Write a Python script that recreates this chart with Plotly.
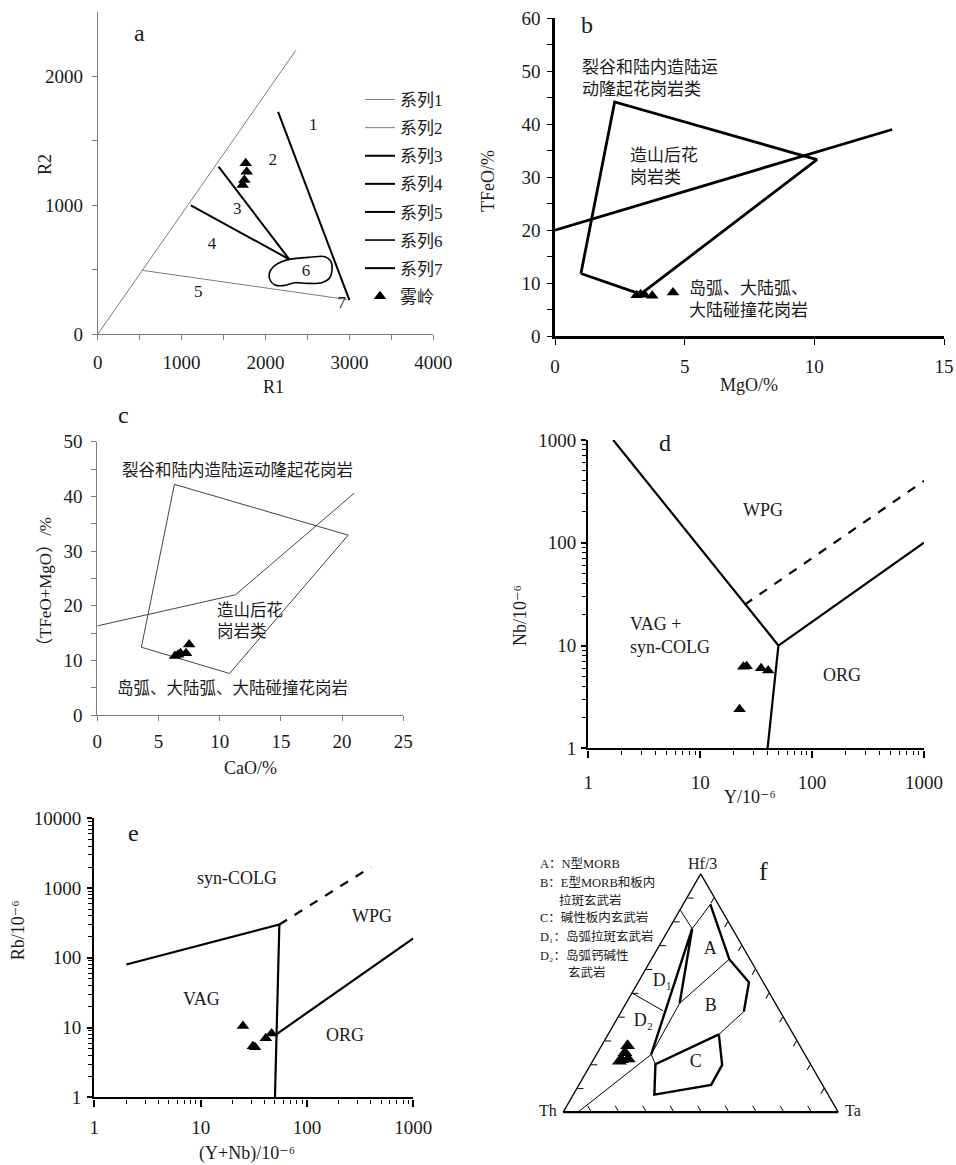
import numpy as np
import plotly.graph_objects as go

W, H = 956, 1165


def px(x):
    return x / W


def py(y):
    return 1 - y / H


# ------------------------------------------------------------------ data
# (a) R1-R2 diagram
a_series_names = ["系列1", "系列2", "系列3", "系列4", "系列5", "系列6", "系列7", "雾岭"]
a_diag_r1 = [0, 2360]
a_diag_r2 = [0, 2200]
a_l5_r1 = [540, 2970]
a_l5_r2 = [495, 270]
a_l1_r1 = [2150, 3000]
a_l1_r2 = [1725, 265]
a_l3_r1 = [1440, 2284]
a_l3_r2 = [1300, 581]
a_l4_r1 = [1110, 2284]
a_l4_r2 = [1000, 581]
a_f6_r1 = [2284, 2531, 2709, 2781, 2793, 2761, 2670, 2491, 2352, 2213, 2113, 2054, 2046, 2093, 2193, 2284]
a_f6_r2 = [581, 597, 602, 563, 498, 434, 400, 395, 400, 377, 382, 421, 473, 524, 563, 581]
a_s7_r1 = [None]
a_s7_r2 = [None]
a_smp_r1 = [1764, 1776, 1748, 1728]
a_smp_r2 = [1326, 1261, 1196, 1157]
a_field_labels = ["1", "2", "3", "4", "5", "6", "7"]
a_field_r1 = [2568, 2086, 1664, 1362, 1199, 2483, 2908]
a_field_r2 = [1620, 1346, 969, 692, 322, 485, 235]

# (b) MgO-TFeO
b_field_mgo = [1.0, 2.3, 10.1, 3.3, 1.0]
b_field_tfeo = [11.8, 44.2, 33.3, 7.9, 11.8]
b_line_mgo = [0, 13]
b_line_tfeo = [20, 39]
b_smp_mgo = [3.15, 3.3, 3.45, 3.75, 4.55]
b_smp_tfeo = [7.7, 7.9, 7.8, 7.6, 8.2]

# (c) CaO-(TFeO+MgO)
c_field_cao = [3.6, 6.3, 20.5, 10.8, 3.6]
c_field_sum = [12.4, 42.2, 32.9, 7.6, 12.4]
c_line_cao = [0, 11.3, 21]
c_line_sum = [16.3, 22.0, 40.6]
c_smp_cao = [6.35, 6.6, 6.8, 7.25, 7.5]
c_smp_sum = [10.8, 11.0, 11.3, 11.3, 12.9]

# (d) Y-Nb
d_l1_y, d_l1_nb = [1.67, 50], [1000, 10]
d_l2_y, d_l2_nb = [50, 40], [10, 1]
d_l3_y, d_l3_nb = [50, 1000], [10, 100]
d_dash_y, d_dash_nb = [25, 1000], [25, 400]
d_smp_y = [22.5, 24.3, 26.0, 35.0, 40.5]
d_smp_nb = [2.4, 6.2, 6.3, 6.0, 5.7]

# (e) (Y+Nb)-Rb
e_l1_ynb, e_l1_rb = [2, 55], [80, 300]
e_dash_ynb, e_dash_rb = [55, 400], [300, 2000]
e_vert_ynb, e_vert_rb = [55, 51.5, 50], [300, 8, 1]
e_org_ynb, e_org_rb = [51.5, 1000], [8, 190]
e_smp_ynb = [25.0, 31.0, 32.5, 41.0, 46.5]
e_smp_rb = [10.5, 5.4, 5.2, 7.0, 8.2]

# (f) Hf/3-Th-Ta  (values in %, order Hf/3, Th, Ta)
f_thick_hf = [87.2, 64.2, 54.5, 42.2, None, 32.6, 19.8, 11.4, 7.3, 20.1, 32.6, None, 24.2, 77.0, 45.7]
f_thick_th = [2.9, 7.5, 5.2, 13.2, None, 27.1, 32.3, 40.5, 63.2, 56.4, 27.1, None, 55.9, 14.6, 34.8]
f_thick_ta = [9.9, 28.3, 40.3, 44.6, None, 40.3, 47.9, 48.1, 29.5, 23.5, 40.3, None, 19.9, 8.4, 19.5]
f_thin_hf = [85.0, 77.0, 87.2, None, 42.2, 32.6, None, 0.0, 24.2, 20.1, None, 24.2, 45.7, 64.2, None, 50.0, 42.5]
f_thin_th = [15.0, 14.6, 2.9, None, 13.2, 27.1, None, 94.6, 55.9, 56.4, None, 55.9, 34.8, 7.5, None, 50.0, 42.4]
f_thin_ta = [0.0, 8.4, 9.9, None, 44.6, 40.3, None, 5.4, 19.9, 23.5, None, 19.9, 19.5, 28.3, None, 0.0, 15.1]
f_smp_hf = [27.9, 24.9, 22.0, 22.3, 21.3]
f_smp_th = [62.7, 65.1, 67.8, 65.2, 68.9]
f_smp_ta = [9.5, 10.0, 10.2, 12.5, 9.8]
f_field_labels = ["A", "B", "C", "D₁", "D₂"]
f_field_hf = [68.2, 44.3, 20.8, 55.0, 38.1]
f_field_th = [12.5, 24.2, 41.4, 36.4, 51.8]
f_field_ta = [19.4, 31.6, 37.8, 8.6, 10.1]
f_key_lines = ["A：N型MORB", "B：E型MORB和板内", "拉斑玄武岩", "C：碱性板内玄武岩",
               "D₁：岛弧拉斑玄武岩", "D₂：岛弧钙碱性", "玄武岩"]

# ------------------------------------------------------------------ style
SERIF = "Liberation Serif, DejaVu Serif, Noto Sans CJK SC, serif"
TXT = "#1a1a1a"
GRAY = "#7a7a7a"
TRI = dict(symbol="triangle-up", size=11, color="black")

fig = go.Figure()


def line(x, y, ax, width=2.2, color="black", dash="solid", shape="linear", name=None, show=False, group=None):
    fig.add_trace(go.Scatter(x=x, y=y, mode="lines", xaxis=ax[0], yaxis=ax[1],
                             line=dict(color=color, width=width, dash=dash, shape=shape),
                             name=name, showlegend=show, legendgroup=group, hoverinfo="skip"))


# (a)
A = ("x", "y")
line(a_diag_r1, a_diag_r2, A, 1, GRAY, name=a_series_names[0], show=True, group="g1")
line(a_l5_r1, a_l5_r2, A, 1, GRAY, name=a_series_names[1], show=True, group="g2")
line(a_l1_r1, a_l1_r2, A, 2, "black", name=a_series_names[2], show=True, group="g3")
line(a_l3_r1, a_l3_r2, A, 2, "black", name=a_series_names[3], show=True, group="g4")
line(a_l4_r1, a_l4_r2, A, 2, "black", name=a_series_names[4], show=True, group="g5")
line(a_f6_r1, a_f6_r2, A, 1.6, "black", shape="spline", name=a_series_names[5], show=True, group="g6")
line(a_s7_r1, a_s7_r2, A, 2, "black", name=a_series_names[6], show=True, group="g7")
fig.add_trace(go.Scatter(x=a_smp_r1, y=a_smp_r2, mode="markers", marker=TRI, xaxis="x", yaxis="y",
                         name=a_series_names[7], legendgroup="g8", showlegend=True))
fig.add_trace(go.Scatter(x=a_field_r1, y=a_field_r2, mode="text", text=a_field_labels, xaxis="x", yaxis="y",
                         textfont=dict(family=SERIF, size=17, color=TXT), showlegend=False, hoverinfo="skip"))

# (b)
B = ("x2", "y2")
line(b_field_mgo, b_field_tfeo, B, 2.8)
line(b_line_mgo, b_line_tfeo, B, 2.8)
fig.add_trace(go.Scatter(x=b_smp_mgo, y=b_smp_tfeo, mode="markers", marker=TRI, xaxis="x2", yaxis="y2",
                         showlegend=False))

# (c)
C = ("x3", "y3")
line(c_field_cao, c_field_sum, C, 1, "#444")
line(c_line_cao, c_line_sum, C, 1, "#444")
fig.add_trace(go.Scatter(x=c_smp_cao, y=c_smp_sum, mode="markers", marker=TRI, xaxis="x3", yaxis="y3",
                         showlegend=False))

# (d)
D = ("x4", "y4")
line(d_l1_y, d_l1_nb, D, 2.2)
line(d_l2_y, d_l2_nb, D, 2.2)
line(d_l3_y, d_l3_nb, D, 2.2)
line(d_dash_y, d_dash_nb, D, 2.2, dash="dash")
fig.add_trace(go.Scatter(x=d_smp_y, y=d_smp_nb, mode="markers", marker=TRI, xaxis="x4", yaxis="y4",
                         showlegend=False))

# (e)
E = ("x5", "y5")
line(e_l1_ynb, e_l1_rb, E, 2.2)
line(e_dash_ynb, e_dash_rb, E, 2.2, dash="dash")
line(e_vert_ynb, e_vert_rb, E, 2.2)
line(e_org_ynb, e_org_rb, E, 2.2)
fig.add_trace(go.Scatter(x=e_smp_ynb, y=e_smp_rb, mode="markers", marker=TRI, xaxis="x5", yaxis="y5",
                         showlegend=False))

# (f) ternary
fig.add_trace(go.Scatterternary(a=f_thick_hf, b=f_thick_th, c=f_thick_ta, mode="lines",
                                line=dict(color="black", width=2.4), showlegend=False, hoverinfo="skip"))
fig.add_trace(go.Scatterternary(a=f_thin_hf, b=f_thin_th, c=f_thin_ta, mode="lines",
                                line=dict(color="black", width=1), showlegend=False, hoverinfo="skip"))
fig.add_trace(go.Scatterternary(a=f_smp_hf, b=f_smp_th, c=f_smp_ta, mode="markers",
                                marker=dict(symbol="triangle-up", size=13, color="black"), showlegend=False))
fig.add_trace(go.Scatterternary(a=f_field_hf, b=f_field_th, c=f_field_ta, mode="text", text=f_field_labels,
                                textfont=dict(family=SERIF, size=18, color=TXT), showlegend=False,
                                hoverinfo="skip"))

# ------------------------------------------------------------------ axes
TICKFONT = dict(family=SERIF, size=19, color=TXT)


def lin_axis(domain, anchor, rng, tickvals, minor_vals, lc, lw, tl=5, standoff=6):
    return dict(domain=domain, anchor=anchor, range=rng, tickmode="array", tickvals=tickvals,
                ticks="outside", ticklen=tl, tickwidth=1, tickcolor=lc, showline=True, linecolor=lc,
                linewidth=lw, showgrid=False, zeroline=False, tickfont=TICKFONT,
                ticklabelstandoff=standoff,
                minor=dict(tickmode="array", tickvals=minor_vals, ticks="outside", ticklen=tl,
                           tickwidth=1, tickcolor=lc, showgrid=False))


def log_axis(domain, anchor, decades, lw=2.4, standoff=6, tl=6):
    major = [10 ** k for k in range(decades + 1)]
    minor = [m * 10 ** k for k in range(decades) for m in range(2, 10)]
    return dict(domain=domain, anchor=anchor, type="log", range=[0, decades], tickmode="array",
                tickvals=major, ticktext=[str(v) for v in major], ticks="outside", ticklen=tl,
                tickwidth=1.5, tickcolor="black", showline=True, linecolor="black", linewidth=lw,
                showgrid=False, zeroline=False, tickfont=TICKFONT, ticklabelstandoff=standoff,
                minor=dict(tickmode="array", tickvals=minor, ticks="outside", ticklen=4, tickwidth=1,
                           tickcolor="black", showgrid=False))


layout = dict(
    width=W, height=H, margin=dict(l=0, r=0, t=0, b=0, pad=0, autoexpand=False),
    paper_bgcolor="white", plot_bgcolor="white",
    font=dict(family=SERIF, color=TXT),
    xaxis=lin_axis([px(97.7), px(433.3)], "y", [0, 4000], [0, 1000, 2000, 3000, 4000],
                   [500, 1500, 2500, 3500], GRAY, 1, standoff=6),
    yaxis=lin_axis([py(334.3), py(11.8)], "x", [0, 2500], [0, 1000, 2000], [500, 1500], GRAY, 1, standoff=5),
    xaxis2=lin_axis([px(555), px(944)], "y2", [0, 15], [0, 5, 10, 15], [], "black", 2.6, tl=6, standoff=5),
    yaxis2=lin_axis([py(336), py(18.3)], "x2", [0, 60], [0, 10, 20, 30, 40, 50, 60],
                    [5, 15, 25, 35, 45, 55], "black", 2.6, standoff=3),
    xaxis3=lin_axis([px(97.3), px(403.3)], "y3", [0, 25], [0, 5, 10, 15, 20, 25], [], GRAY, 1, standoff=4),
    yaxis3=lin_axis([py(715), py(441.7)], "x3", [0, 50], [0, 10, 20, 30, 40, 50],
                    [5, 15, 25, 35, 45], GRAY, 1, standoff=5),
    xaxis4=log_axis([px(588.3), px(924)], "y4", 3, standoff=9, tl=7),
    yaxis4=log_axis([py(748.3), py(440)], "x4", 3, standoff=1, tl=5),
    xaxis5=log_axis([px(94.3), px(413.3)], "y5", 3, standoff=5, tl=7),
    yaxis5=log_axis([py(1097.3), py(818.3)], "x5", 4, standoff=2, tl=5),
)

tern_ax = dict(showline=True, linecolor="black", linewidth=1.3, ticks="inside", ticklen=6, tickwidth=1,
               tickcolor="black", tickmode="array", tickvals=[10, 20, 30, 40, 50, 60, 70, 80, 90],
               showticklabels=False, showgrid=False, title=dict(text=""))
layout["ternary"] = dict(
    domain=dict(x=[px(563.2), px(838.2)], y=[py(1123), py(863)]), sum=100, bgcolor="white",
    aaxis=dict(tern_ax), baxis=dict(tern_ax, linewidth=2.2), caxis=dict(tern_ax),
)

layout["legend"] = dict(x=px(360), y=py(82), xanchor="left", yanchor="top", bgcolor="rgba(0,0,0,0)",
                        font=dict(family=SERIF, size=17, color=TXT), itemwidth=30, tracegroupgap=3,
                        traceorder="grouped")

# ------------------------------------------------------------------ text
anns = []


def ann(text, x, y, size=17, angle=0, xanchor="center", align="center", xref="paper", yref="paper"):
    anns.append(dict(text=text, x=x, y=y, xref=xref, yref=yref, showarrow=False, textangle=angle,
                     xanchor=xanchor, yanchor="middle", align=align,
                     font=dict(family=SERIF, size=size, color=TXT)))


# panel letters
ann("a", px(139.3), py(33.3), 24)
ann("b", px(586.7), py(25), 24)
ann("c", px(123.3), py(415), 24)
ann("d", px(665), py(443.3), 24)
ann("e", px(133.3), py(832.7), 24)
ann("f", px(763.3), py(871.7), 26)

# axis titles
ann("R2", px(45), py(165), 18, -90)
ann("R1", px(273.3), py(386.7), 18)
ann("TFeO/%", px(488), py(181), 18, -90)
ann("MgO/%", px(749.3), py(385), 18)
ann("（TFeO+MgO）/%", px(45), py(586), 17, -90)
ann("CaO/%", px(250), py(768.3), 18)
ann("Nb/10⁻⁶", px(520), py(616), 18, -90)
ann("Y/10⁻⁶", px(750), py(797), 18)
ann("Rb/10⁻⁶", px(18.3), py(930), 18, -90)
ann("(Y+Nb)/10⁻⁶", px(246.7), py(1153.3), 18)

# (b) field names
ann("裂谷和陆内造陆运<br>动隆起花岗岩类", 0.96, 48.7, 17, xanchor="left", align="left", xref="x2", yref="y2")
ann("造山后花<br>岗岩类", 2.83, 32.1, 17, xanchor="left", align="left", xref="x2", yref="y2")
ann("岛弧、大陆弧、<br>大陆碰撞花岗岩", 5.08, 6.9, 17, xanchor="left", align="left", xref="x2", yref="y2")

# (c) field names
ann("裂谷和陆内造陆运动隆起花岗岩", 1.85, 44.8, 16.5, xanchor="left", xref="x3", yref="y3")
ann("造山后花<br>岗岩类", 9.62, 17.2, 16.5, xanchor="left", align="left", xref="x3", yref="y3")
ann("岛弧、大陆弧、大陆碰撞花岗岩", 1.45, 4.9, 16.5, xanchor="left", xref="x3", yref="y3")

# (d) field names (log axes -> log10 positions)
ann("WPG", np.log10(36.6), np.log10(209), 18, xref="x4", yref="y4")
ann("VAG +<br>syn-COLG", np.log10(2.28), np.log10(12.6), 18, xanchor="left", align="left",
    xref="x4", yref="y4")
ann("ORG", np.log10(184), np.log10(5.16), 18, xref="x4", yref="y4")

# (e) field names
ann("syn-COLG", np.log10(21.9), np.log10(1380), 18, xref="x5", yref="y5")
ann("WPG", np.log10(407), np.log10(397), 18, xref="x5", yref="y5")
ann("VAG", np.log10(10.1), np.log10(25.4), 18, xref="x5", yref="y5")
ann("ORG", np.log10(228), np.log10(7.8), 18, xref="x5", yref="y5")

# (f) vertex names and key
ann("Hf/3", px(702.7), py(863.3), 16)
ann("Th", px(548.3), py(1110.7), 16)
ann("Ta", px(853.3), py(1110), 16)
key_x = [538.3, 538.3, 557.3, 538.3, 538.3, 538.3, 566]
key_y = [864, 882.7, 900, 917.7, 936.7, 955, 972.7]
for t, kx, ky in zip(f_key_lines, key_x, key_y):
    ann(t, px(kx), py(ky), 12.5, xanchor="left")

layout["annotations"] = anns
fig.update_layout(**layout)
fig.write_html("out.html")
